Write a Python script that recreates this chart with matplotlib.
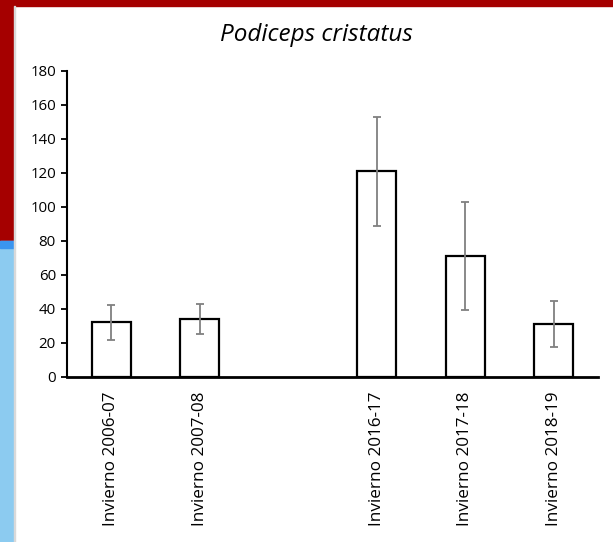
import matplotlib
matplotlib.use("Agg")
import matplotlib.pyplot as plt
from matplotlib.patches import Rectangle

categories = ["Invierno 2006-07", "Invierno 2007-08", "", "Invierno 2016-17", "Invierno 2017-18", "Invierno 2018-19"]
values = [32, 34, 0, 121, 71, 31]
errors = [10.4, 8.8, 0, 32, 32, 13.7]
has_bar = [True, True, False, True, True, True]
yticks = [0, 20, 40, 60, 80, 100, 120, 140, 160, 180]

W, H = 613, 542
fig = plt.figure(figsize=(W / 100, H / 100), dpi=100)
fig.patch.set_facecolor("white")

# slide background decorations
red = "#a50000"
fig.patches.append(Rectangle((0, 1 - 6 / H), 1, 6 / H, transform=fig.transFigure, color=red, zorder=0))
fig.patches.append(Rectangle((0, 1 - 241 / H), 14 / W, 241 / H, transform=fig.transFigure, color=red, zorder=0))
fig.patches.append(Rectangle((0, 0), 14 / W, 1 - 241 / H, transform=fig.transFigure, color="#8ccbf0", zorder=0))
fig.patches.append(Rectangle((0, 1 - 248 / H), 14 / W, 7 / H, transform=fig.transFigure, color="#3a95f0", zorder=0))
fig.patches.append(Rectangle((14 / W, 0), 1.2 / W, 1 - 6 / H, transform=fig.transFigure, color="#d9d9d9", zorder=0))

ax = fig.add_axes([67 / W, 1 - 376.7 / H, (598 - 67) / W, (376.7 - 71) / H])
ax.set_facecolor("none")

x = list(range(len(categories)))
bx = [xi for xi, h in zip(x, has_bar) if h]
bv = [v for v, h in zip(values, has_bar) if h]
be = [e for e, h in zip(errors, has_bar) if h]

ax.bar(bx, bv, width=0.445, color="white", edgecolor="black", linewidth=1.6, zorder=2)
ax.errorbar(bx, bv, yerr=be, fmt="none", ecolor="#808080", elinewidth=1.3, capsize=3, capthick=1.3, zorder=3)

ax.set_xlim(-0.5, len(categories) - 0.5)
ax.set_ylim(0, 180)
ax.set_yticks(yticks)
ax.set_xticks(x)
ax.set_xticklabels(categories, rotation=90, fontsize=12.3, family="Open Sans")
ax.tick_params(axis="x", length=0, pad=11)
ax.tick_params(axis="y", length=4, width=1.3, pad=4, labelsize=10.8)
for lab in ax.get_yticklabels():
    lab.set_family("Open Sans")

for s in ["top", "right"]:
    ax.spines[s].set_visible(False)
ax.spines["left"].set_linewidth(1.5)
ax.spines["bottom"].set_linewidth(2)

fig.text(316 / W, 1 - 35 / H, "Podiceps cristatus", ha="center", va="center",
         fontsize=17.5, style="italic", family="Open Sans")

fig.savefig("out.png", dpi=100)
